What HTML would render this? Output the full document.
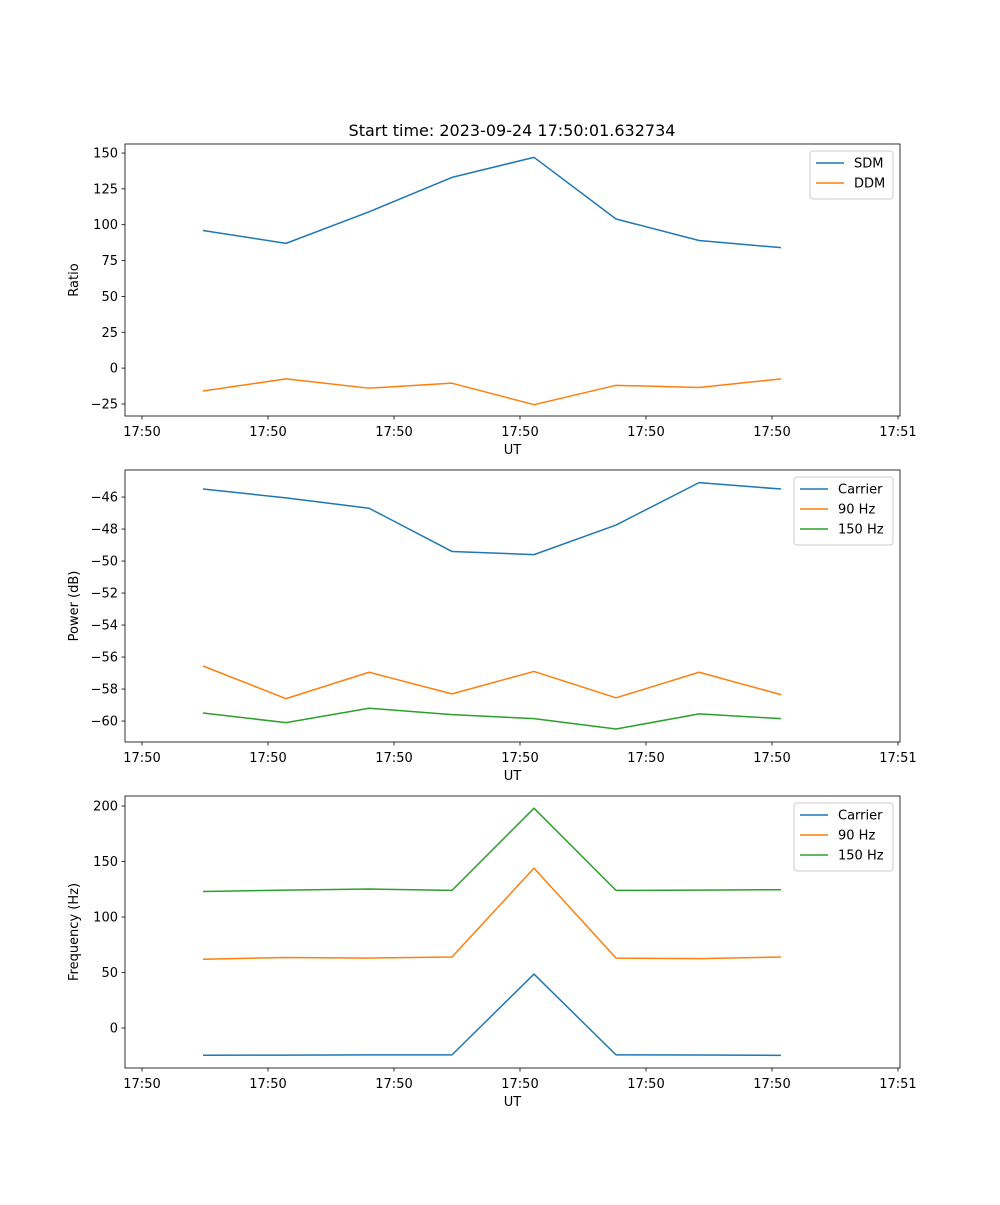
<!DOCTYPE html>
<html><head><meta charset="utf-8"><style>
body{margin:0;background:#fff;}
svg text{font-family:"DejaVu Sans","Liberation Sans",sans-serif;fill:#000;}
</style></head><body>
<svg id="fig" width="1000" height="1200" xmlns="http://www.w3.org/2000/svg">
<text x="512" y="136" font-size="16" text-anchor="middle">Start time: 2023-09-24 17:50:01.632734</text>
</svg>
<script>
const xPoints = [0.484, 1.143, 1.802, 2.460, 3.111, 3.762, 4.421, 5.071];
const xTickLabels = ["17:50","17:50","17:50","17:50","17:50","17:50","17:51"];
const sdm = [96, 87, 109, 133, 147, 104, 89, 84];
const ddm = [-16, -7.5, -14, -10.5, -25.5, -12, -13.5, -7.5];
const powCarrier = [-45.5, -46.05, -46.7, -49.4, -49.6, -47.75, -45.1, -45.5];
const pow90 = [-56.56, -58.6, -56.95, -58.3, -56.9, -58.55, -56.95, -58.35];
const pow150 = [-59.5, -60.1, -59.2, -59.6, -59.85, -60.5, -59.55, -59.85];
const freqCarrier = [-24.5, -24.4, -24.2, -24.2, 48.6, -24.2, -24.3, -24.6];
const freq90 = [62, 63.5, 63, 64, 144, 63, 62.5, 64];
const freq150 = [123, 124.2, 125.2, 124, 198, 124, 124.2, 124.6];
const yTicks1 = [-25, 0, 25, 50, 75, 100, 125, 150];
const yTicks2 = [-60, -58, -56, -54, -52, -50, -48, -46];
const yTicks3 = [0, 50, 100, 150, 200];

const NS = "http://www.w3.org/2000/svg";
const svg = document.getElementById('fig');
const C = {blue:"#1f77b4", orange:"#ff7f0e", green:"#2ca02c"};
function mk(tag, attrs, parent){const e=document.createElementNS(NS,tag);for(const k in attrs)e.setAttribute(k,attrs[k]);(parent||svg).appendChild(e);return e;}

function panel(id, top, ymin, ymax, yticks, ylabel, series, legendW){
  const L=125, R=900, T=top, B=top+272, xmin=-0.135, xmax=6.016;
  const g=mk('g',{});
  
  
  const xs=v=>L+(v-xmin)/(xmax-xmin)*(R-L);
  const ys=v=>B-(v-ymin)/(ymax-ymin)*(B-T);
  xTickLabels.forEach((lab,i)=>{
    const x=xs(i);
    mk('line',{x1:x,x2:x,y1:B,y2:B+3.5,stroke:'#000','stroke-width':0.8},g);
    const t=mk('text',{x:x,y:B+20,'font-size':13,'text-anchor':'middle'},g);
    t.textContent=lab;
    
    
  });
  yticks.forEach(v=>{
    const y=ys(v);
    mk('line',{x1:L-3.5,x2:L,y1:y,y2:y,stroke:'#000','stroke-width':0.8},g);
    const t=mk('text',{x:L-7,y:y+4.5,'font-size':13,'text-anchor':'end'},g);
    t.textContent=(v<0?'\u2212'+(-v):String(v));
    
    
  });
  const xl=mk('text',{x:(L+R)/2,y:B+38,'font-size':13,'text-anchor':'middle'},g);
  xl.textContent='UT';
  
  
  const yl=mk('text',{x:0,y:0,'font-size':13,'text-anchor':'middle',transform:`translate(78,${(T+B)/2}) rotate(-90)`},g);
  yl.textContent=ylabel;
  
  
  series.forEach(s=>{
    const p=mk('polyline',{points:s.d.map((v,i)=>xs(xPoints[i])+','+ys(v)).join(' '),fill:'none',stroke:s.c,'stroke-width':1.5,'stroke-linejoin':'round'},g);
    
    
  });
  mk('rect',{x:L,y:T,width:R-L,height:B-T,fill:'none',stroke:'#000','stroke-width':0.8},g);
  const lw=legendW, lx=R-7-lw, ly=T+7, lh=8+series.length*20;
  const lg=mk('g',{},g);
  
  
  mk('rect',{x:lx,y:ly,width:lw,height:lh,rx:3,fill:'#fff','fill-opacity':0.8,stroke:'#ccc','stroke-width':1},lg);
  series.forEach((s,i)=>{
    const cy=ly+12+i*20;
    mk('line',{x1:lx+6,x2:lx+34,y1:cy,y2:cy,stroke:s.c,'stroke-width':1.5},lg);
    const t=mk('text',{x:lx+44,y:cy+4.5,'font-size':13},lg);
    t.textContent=s.n;
    
    
  });
}
panel('ratio-panel',144,-33.4,156.3,yTicks1,'Ratio',[{n:'SDM',d:sdm,c:C.blue},{n:'DDM',d:ddm,c:C.orange}],83);
panel('power-panel',470,-61.31,-44.31,yTicks2,'Power (dB)',[{n:'Carrier',d:powCarrier,c:C.blue},{n:'90 Hz',d:pow90,c:C.orange},{n:'150 Hz',d:pow150,c:C.green}],99);
panel('frequency-panel',796,-36,209,yTicks3,'Frequency (Hz)',[{n:'Carrier',d:freqCarrier,c:C.blue},{n:'90 Hz',d:freq90,c:C.orange},{n:'150 Hz',d:freq150,c:C.green}],99);
</script>
</body></html>
